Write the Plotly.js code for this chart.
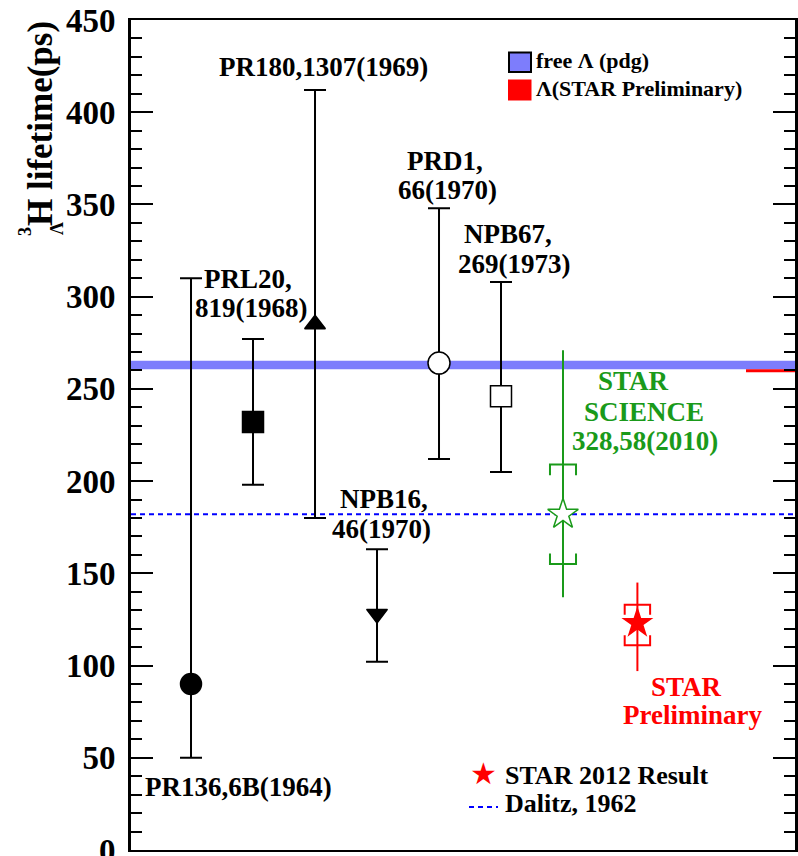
<!DOCTYPE html>
<html><head><meta charset="utf-8">
<script src="https://cdn.plot.ly/plotly-3.0.1.min.js"></script>
<style>body{margin:0;background:#fff}</style>
</head><body><div id="chart" style="width:798px;height:856px"></div>
<script>
// ---- data ----
const refLabels = ["PR136,6B(1964)", "PRL20,819(1968)", "PR180,1307(1969)", "NPB16,46(1970)", "PRD1,66(1970)", "NPB67,269(1973)"];
const refX = [1, 2, 3, 4, 5, 6];
const refLifetime = [90, 232, 285, 128, 264, 246];
const refErrHigh = [220, 45, 127, 35, 84, 62];
const refErrLow = [40, 34, 105, 26, 52, 41];
const starLabels = ["STAR SCIENCE 328,58(2010)", "STAR Preliminary (2012)"];
const starX = [7, 8.2];
const starLifetime = [182, 123];
const starStatHigh = [89, 22];
const starStatLow = [45, 26];
const starSysHigh = [27, 10];
const starSysLow = [27, 12];
const freeLambdaBand = [260.6, 265.2];
const starLambda = 259.8;
const dalitz = 182;
const yTickVals = [0, 50, 100, 150, 200, 250, 300, 350, 400, 450];

// ---- layout helpers (pixel geometry of the frame) ----
const L = 131, R = 795, T = 20, B = 850, W = 798, H = 856;
const px = x => (x - L) / (R - L);
const py = y => (B - y) / (B - T);
const SERIF = 'Liberation Serif';

function txt(text, cx, baseline, size, color, anchor) {
  return {xref: 'paper', yref: 'paper', x: px(cx), y: py(baseline - 0.32 * size),
    xanchor: anchor || 'center', yanchor: 'middle', text: text, showarrow: false,
    borderpad: 0, font: {family: SERIF, size: size, color: color || 'black', weight: 'bold'}};
}

// bracket (systematic error) paths built from the data
function brackets(xs, ys, hi, lo, halfW, leg) {
  const bx = [], by = [];
  for (let i = 0; i < xs.length; i++) {
    const top = ys[i] + hi[i], bot = ys[i] - lo[i];
    bx.push(xs[i] - halfW, xs[i] - halfW, xs[i] + halfW, xs[i] + halfW, null);
    by.push(top - leg, top, top, top - leg, null);
    bx.push(xs[i] - halfW, xs[i] - halfW, xs[i] + halfW, xs[i] + halfW, null);
    by.push(bot + leg, bot, bot, bot + leg, null);
  }
  return {bx, by};
}
const brG = brackets([starX[0]], [starLifetime[0]], [starSysHigh[0]], [starSysLow[0]], 0.21, 5.8);
const brR = brackets([starX[1]], [starLifetime[1]], [starSysHigh[1]], [starSysLow[1]], 0.205, 5.4);

const traces = [
  {type: 'scatter', mode: 'markers', x: refX, y: refLifetime, text: refLabels, showlegend: false,
   cliponaxis: false,
   error_y: {type: 'data', symmetric: false, array: refErrHigh, arrayminus: refErrLow, color: 'black', thickness: 2, width: 11},
   marker: {symbol: ['circle', 'square', 'triangle-up', 'triangle-down', 'circle', 'square'],
            size: [21, 21, 18, 18, 22, 21], opacity: 1,
            color: ['black', 'black', 'black', 'black', 'white', 'white'],
            line: {color: 'black', width: 1.5}}},
  {type: 'scatter', mode: 'lines', x: brG.bx, y: brG.by, line: {color: '#1a9a1a', width: 2}, showlegend: false, hoverinfo: 'skip'},
  {type: 'scatter', mode: 'lines', x: brR.bx, y: brR.by, line: {color: 'red', width: 2}, showlegend: false, hoverinfo: 'skip'},
  {type: 'scatter', mode: 'markers', x: [starX[0]], y: [starLifetime[0]], text: [starLabels[0]], showlegend: false,
   error_y: {type: 'data', symmetric: false, array: [starStatHigh[0]], arrayminus: [starStatLow[0]], color: '#1a9a1a', thickness: 2, width: 0},
   marker: {symbol: 'star', size: 23, opacity: 1, color: 'white', line: {color: '#1a9a1a', width: 1.5}}},
  {type: 'scatter', mode: 'markers', x: [starX[1]], y: [starLifetime[1]], text: [starLabels[1]], showlegend: false,
   error_y: {type: 'data', symmetric: false, array: [starStatHigh[1]], arrayminus: [starStatLow[1]], color: 'red', thickness: 2, width: 0},
   marker: {symbol: 'star', size: 24, opacity: 1, color: 'red', line: {color: 'red', width: 0}}}
];

const bandColor = 'rgb(125,125,252)';
const shapes = [
  {type: 'rect', xref: 'paper', yref: 'y', x0: 0, x1: 1, y0: freeLambdaBand[0], y1: freeLambdaBand[1], fillcolor: bandColor, line: {width: 0}, layer: 'below'},
  {type: 'line', xref: 'paper', yref: 'y', x0: px(746), x1: 1, y0: starLambda, y1: starLambda, line: {color: 'red', width: 3}, layer: 'below'},
  {type: 'line', xref: 'paper', yref: 'y', x0: 0, x1: 1, y0: dalitz, y1: dalitz, line: {color: 'blue', width: 2, dash: '5px,4px'}, layer: 'below'},
  // legend boxes
  {type: 'rect', xref: 'paper', yref: 'paper', x0: px(509), x1: px(531), y0: py(52.5), y1: py(72), fillcolor: bandColor, line: {color: 'black', width: 2}},
  {type: 'rect', xref: 'paper', yref: 'paper', x0: px(508), x1: px(531.5), y0: py(79.5), y1: py(100.5), fillcolor: 'red', line: {width: 0}},
  {type: 'line', xref: 'paper', yref: 'paper', x0: px(469), x1: px(498), y0: py(807), y1: py(807), line: {color: 'blue', width: 2, dash: '5px,4px'}}
];

const annotations = [
  txt('PR180,1307(1969)', 323, 76, 27),
  txt('PRL20,', 248, 288, 27),
  txt('819(1968)', 251, 316.7, 27),
  txt('PRD1,', 445, 170, 27),
  txt('66(1970)', 447, 199, 27),
  txt('NPB67,', 508, 243, 27),
  txt('269(1973)', 514, 273, 27),
  txt('NPB16,', 384, 508, 27),
  txt('46(1970)', 381, 538, 27),
  txt('PR136,6B(1964)', 238, 796, 27),
  txt('STAR', 633, 390, 27, '#1a9a1a'),
  txt('SCIENCE', 644, 421, 27, '#1a9a1a'),
  txt('328,58(2010)', 645, 450, 27, '#1a9a1a'),
  txt('STAR', 686, 696, 27, 'red'),
  txt('Preliminary', 692, 723.3, 27, 'red'),
  txt('free Λ (pdg)', 535, 68, 22, 'black', 'left'),
  txt('Λ(STAR Preliminary)', 535, 96, 22, 'black', 'left'),
  txt('STAR 2012 Result', 504, 784, 26, 'black', 'left'),
  txt('Dalitz, 1962', 504, 811.7, 26, 'black', 'left'),
  {xref: 'paper', yref: 'paper', x: px(483), y: py(773), xanchor: 'center', yanchor: 'middle', text: '★', showarrow: false,
   font: {family: 'DejaVu Sans', size: 30, color: 'red'}},
  // y-axis title
  {xref: 'paper', yref: 'paper', x: px(41), y: py(124), xanchor: 'center', yanchor: 'middle', textangle: -90,
   text: 'H lifetime(ps)', showarrow: false, font: {family: SERIF, size: 35, color: 'black', weight: 'bold'}},
  {xref: 'paper', yref: 'paper', x: px(25), y: py(232), xanchor: 'center', yanchor: 'middle', textangle: -90,
   text: '3', showarrow: false, font: {family: SERIF, size: 18, color: 'black', weight: 'bold'}},
  {xref: 'paper', yref: 'paper', x: px(57), y: py(229), xanchor: 'center', yanchor: 'middle', textangle: -90,
   text: 'Λ', showarrow: false, font: {family: SERIF, size: 18, color: 'black', weight: 'bold'}}
];

const layout = {
  width: W, height: H,
  margin: {l: L, r: W - R, t: T, b: H - B, pad: 0},
  paper_bgcolor: 'white', plot_bgcolor: 'white',
  showlegend: false,
  xaxis: {range: [0.032, 10.742], showgrid: false, zeroline: false, showticklabels: false, ticks: '',
          showline: true, mirror: true, linecolor: 'black', linewidth: 2},
  yaxis: {range: [0, 450], tickvals: yTickVals, ticktext: yTickVals.map(String), showgrid: false, zeroline: false,
          ticks: 'inside', ticklen: 22, tickwidth: 2, tickcolor: 'black',
          minor: {dtick: 10, ticks: 'inside', ticklen: 11, tickwidth: 2, tickcolor: 'black', showgrid: false},
          showline: true, mirror: 'ticks', linecolor: 'black', linewidth: 3, ticklabeloverflow: 'allow',
          tickfont: {family: SERIF, size: 33, color: 'black', weight: 'bold'}, ticklabelstandoff: 6},
  shapes: shapes,
  annotations: annotations
};

Plotly.newPlot('chart', traces, layout, {displayModeBar: false, staticPlot: true});
</script>
</body></html>
